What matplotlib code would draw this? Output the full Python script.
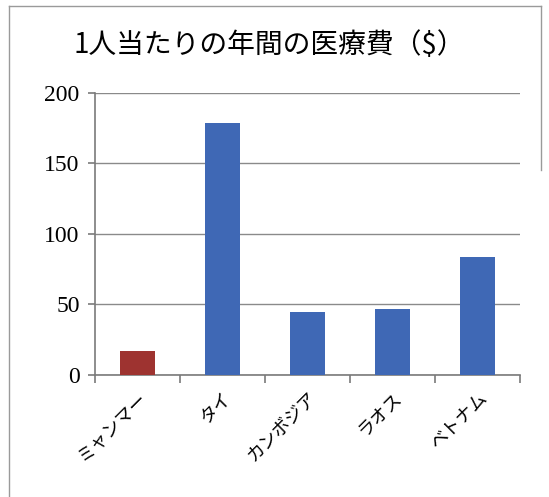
import matplotlib
matplotlib.use("Agg")
import matplotlib.pyplot as plt
import numpy as np

plt.rcParams['font.family'] = ['Noto Sans CJK JP', 'DejaVu Sans']

countries = ['ミャンマー', 'タイ', 'カンボジア', 'ラオス', 'ベトナム']
spending = [17, 179, 45, 47, 84]
colors = ['#9e3330', '#3f68b5', '#3f68b5', '#3f68b5', '#3f68b5']
yticks = [0, 50, 100, 150, 200]

fig = plt.figure(figsize=(5.49, 4.97), dpi=100)
ax = fig.add_axes([0.173, 0.2455, 0.774, 0.5674])

x = np.arange(len(countries))
ax.bar(x, spending, width=0.41, color=colors, zorder=3)

ax.set_xlim(-0.5, len(countries) - 0.5)
ax.set_ylim(0, 200)
ax.set_yticks(yticks)
ax.set_yticklabels([str(v) for v in yticks], family='Liberation Serif', fontsize=17)
ax.yaxis.grid(True, color='#8a8a8a', linewidth=1.0, zorder=0)

# category labels sit between boundary ticks
ax.set_xticks(x)
ax.set_xticklabels(countries, rotation=45, ha='right', rotation_mode='anchor', fontsize=13)
ax.tick_params(axis='x', length=0, pad=10)
ax.set_xticks(np.arange(len(countries) + 1) - 0.5, minor=True)
ax.tick_params(axis='x', which='minor', length=6, color='#7a7a7a', width=1.2)
ax.tick_params(axis='y', length=5, color='#7a7a7a', width=1.2, pad=6)

for side in ['top', 'right']:
    ax.spines[side].set_visible(False)
for side in ['left', 'bottom']:
    ax.spines[side].set_color('#7a7a7a')
    ax.spines[side].set_linewidth(1.2)

fig.text(0.49, 1 - 45 / 497, '1人当たりの年間の医療費（$）', ha='center', va='center', fontsize=20)

# chart frame
frame = dict(color='#9a9a9a', linewidth=1.0, transform=fig.transFigure)
fig.add_artist(plt.Line2D([9 / 549, 9 / 549], [0, 1 - 6 / 497], **frame))
fig.add_artist(plt.Line2D([9 / 549, 541 / 549], [1 - 6 / 497, 1 - 6 / 497], **frame))
fig.add_artist(plt.Line2D([541 / 549, 541 / 549], [1 - 6 / 497, 1 - 170 / 497], **frame))

fig.savefig('out.png', dpi=100)
